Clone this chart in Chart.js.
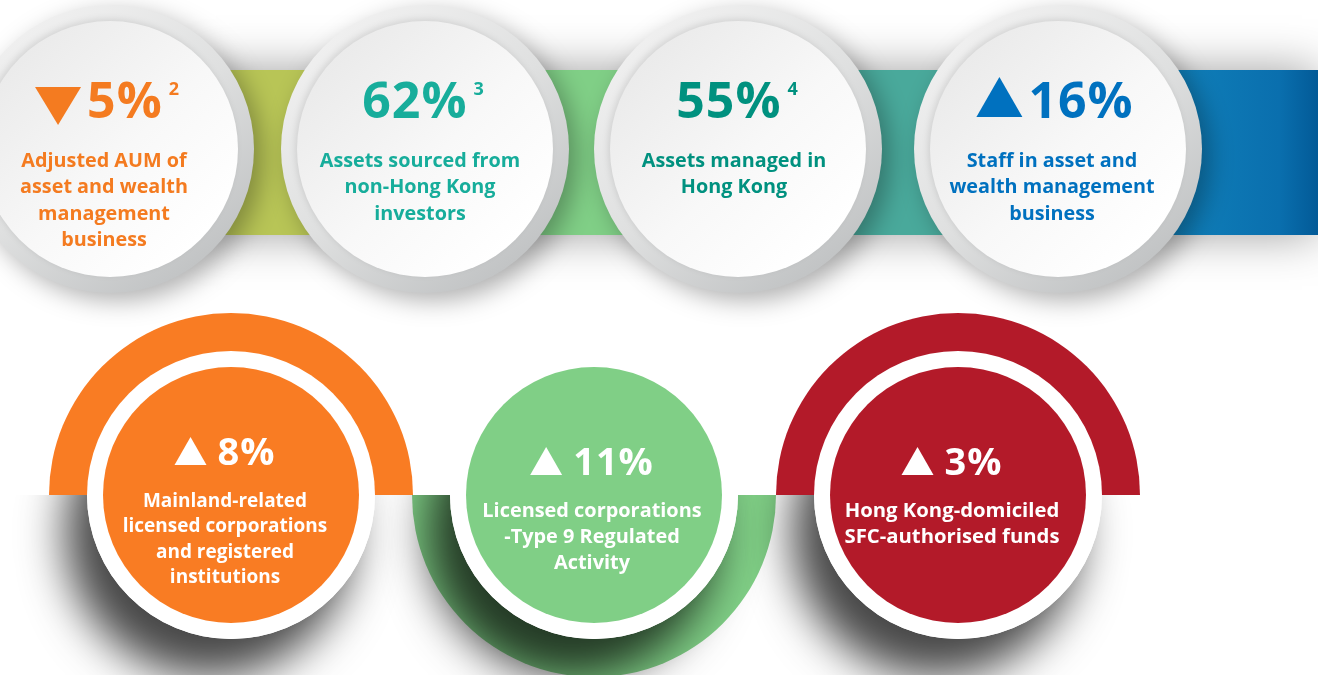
<!DOCTYPE html>
<html><head><meta charset="utf-8">
<script src="https://cdn.jsdelivr.net/npm/chart.js@4/dist/chart.umd.min.js"></script>
<style>html,body{margin:0;padding:0;background:#fff;overflow:hidden}#wrap{width:1321px;height:675px;position:relative}canvas{display:block}</style>
</head><body><div id="wrap"><canvas id="c" width="1321" height="675"></canvas></div>
<script>
// ---------------- DATA ----------------
const topValues = [5, 62, 55, 16];
const topChange = ['down', 'none', 'none', 'up'];
const topNotes = ['2', '3', '4', ''];
const topLabels = [
  ['Adjusted AUM of', 'asset and wealth', 'management', 'business'],
  ['Assets sourced from', 'non-Hong Kong', 'investors'],
  ['Assets managed in', 'Hong Kong'],
  ['Staff in asset and', 'wealth management', 'business']
];
const bottomValues = [8, 11, 3];
const bottomChange = ['up', 'up', 'up'];
const bottomLabels = [
  ['Mainland-related', 'licensed corporations', 'and registered', 'institutions'],
  ['Licensed corporations', '-Type 9 Regulated', 'Activity'],
  ['Hong Kong-domiciled', 'SFC-authorised funds']
];

// ---------------- LAYOUT / STYLE ----------------
const FONT = '"Open Sans", "Noto Sans", sans-serif';
const TOP = {
  cx: [110, 425, 738, 1058], cy: 149, rOuter: 144, rInner: 128,
  textCx: [104, 420, 734, 1052],
  numBase: 118, labelBase: 167, lineH: 26.3, labelSize: 19.8,
  colors: ['#f47b20', '#17ad9b', '#00917f', '#0071bf']
};
const BAND = {
  start: 200, end: 1318, top: 70, bottom: 235,
  segs: [[200, 425, '#b8c556'], [425, 738, '#80cf86'], [738, 1058, '#49a99b'], [1058, 1318, 'blue']]
};
const BOT = {
  cx: [231, 594, 958], cy: 495, rRing: 144, rDisc: 128, rArc: 182,
  arcSide: ['top', 'bottom', 'top'],
  colors: ['#f97c23', '#80cf86', '#b31a29'],
  textCx: [225, 592, 952],
  numBase: [465, 475, 475], labelBase: [507, 517, 517], lineH: [25.3, 26, 26],
  labelSize: [19, 19.9, 20.3]
};

function px(chart, v) { return chart.scales.x.getPixelForValue(v); }
function py(chart, v) { return chart.scales.y.getPixelForValue(v); }
function okPos(chart, p) {
  if (!p || !chart.scales || !chart.scales.x || !chart.scales.y) return null;
  const x = px(chart, p.x), y = py(chart, p.y);
  if (!isFinite(x) || !isFinite(y)) return null;
  return { x, y, r: p.r };
}
function ringGradient(c) {
  const q = okPos(c.chart, c.raw);
  if (!q) return '#dcdcdc';
  const { x, y, r } = q;
  const g = c.chart.ctx.createLinearGradient(x - r * 0.6, y - r * 0.8, x + r * 0.6, y + r * 0.8);
  g.addColorStop(0, '#efefef'); g.addColorStop(0.5, '#dfe0e0'); g.addColorStop(1, '#c2c4c5');
  return g;
}
function discGradient(c) {
  const q = okPos(c.chart, c.raw);
  if (!q) return '#f6f6f6';
  const { x, y, r } = q;
  const g = c.chart.ctx.createLinearGradient(x - r * 0.7, y - r * 0.7, x + r * 0.7, y + r * 0.7);
  g.addColorStop(0, '#ebebeb'); g.addColorStop(0.55, '#f8f8f8'); g.addColorStop(1, '#ffffff');
  return g;
}

function drawTriangle(ctx, x, yTop, w, h, dir) {
  ctx.beginPath();
  if (dir === 'up') { ctx.moveTo(x, yTop + h); ctx.lineTo(x + w / 2, yTop); ctx.lineTo(x + w, yTop + h); }
  else { ctx.moveTo(x, yTop); ctx.lineTo(x + w, yTop); ctx.lineTo(x + w / 2, yTop + h); }
  ctx.closePath(); ctx.fill();
}

function drawStat(ctx, o) {
  ctx.save();
  ctx.fillStyle = o.color;
  ctx.textBaseline = 'alphabetic';
  ctx.textAlign = 'left';
  ctx.font = o.numFont;
  ctx.letterSpacing = o.ls;
  const txt = o.value + '%';
  const tw = ctx.measureText(txt).width;
  let supW = 0;
  if (o.sup) { ctx.letterSpacing = '0px'; ctx.font = o.supFont; supW = o.supGap + ctx.measureText(o.sup).width; }
  const triW = o.change !== 'none' ? o.tri.w + o.tri.gap : 0;
  const total = triW + tw + supW;
  let x = o.cx - total / 2;
  if (o.change !== 'none') {
    const t = o.change === 'up' ? o.tri.up : o.tri.down;
    drawTriangle(ctx, x, o.base + t.dy, o.tri.w, t.h, o.change);
    x += triW;
  }
  ctx.font = o.numFont; ctx.letterSpacing = o.ls;
  ctx.fillText(txt, x, o.base);
  x += tw;
  if (o.sup) {
    ctx.letterSpacing = '0px'; ctx.font = o.supFont;
    ctx.fillText(o.sup, x + o.supGap, o.base + o.supDy);
  }
  ctx.letterSpacing = '0px';
  ctx.textAlign = 'center';
  ctx.font = o.labelFont;
  o.lines.forEach((ln, i) => ctx.fillText(ln, o.labelCx, o.labelBase + i * o.lineH));
  ctx.restore();
}

const infographic = {
  id: 'infographic',
  beforeDatasetsDraw(chart) {
    const ctx = chart.ctx;
    const X = v => px(chart, v), Y = v => py(chart, v);
    ctx.save();
    ctx.beginPath(); ctx.rect(0, 0, X(BAND.end), chart.height); ctx.clip();
    ctx.shadowColor = 'rgba(0,0,0,0.38)'; ctx.shadowBlur = 45;
    ctx.fillStyle = '#ffffff';
    ctx.fillRect(X(BAND.start), Y(BAND.top), X(BAND.end) - X(BAND.start), Y(BAND.bottom) - Y(BAND.top));
    ctx.restore();
    BAND.segs.forEach(s => {
      let fill = s[2];
      if (fill === 'blue') {
        const g = ctx.createLinearGradient(X(s[0]), 0, X(s[1]), 0);
        g.addColorStop(0, '#1a87b2'); g.addColorStop(0.55, '#0e7bb6'); g.addColorStop(0.85, '#0a6fae'); g.addColorStop(1, '#025a97');
        fill = g;
      }
      ctx.fillStyle = fill;
      ctx.fillRect(X(s[0]), Y(BAND.top), X(s[1]) - X(s[0]), Y(BAND.bottom) - Y(BAND.top));
    });
    BOT.cx.forEach((cx, i) => {
      ctx.beginPath();
      const x = X(cx), y = Y(BOT.cy);
      if (BOT.arcSide[i] === 'top') ctx.arc(x, y, BOT.rArc, Math.PI, 2 * Math.PI);
      else ctx.arc(x, y, BOT.rArc, 0, Math.PI);
      ctx.closePath();
      ctx.fillStyle = BOT.colors[i];
      ctx.fill();
    });
    ctx.save();
    ctx.beginPath(); ctx.rect(0, Y(BOT.cy), chart.width, chart.height); ctx.clip();
    ctx.shadowColor = 'rgba(0,0,0,0.72)'; ctx.shadowBlur = 45; ctx.shadowOffsetX = -22; ctx.shadowOffsetY = 38;
    ctx.fillStyle = '#ffffff';
    BOT.cx.forEach(cx => { ctx.beginPath(); ctx.arc(X(cx), Y(BOT.cy), BOT.rRing, 0, 2 * Math.PI); ctx.fill(); });
    ctx.restore();
  },
  beforeDatasetDraw(chart, args) {
    const s = chart.data.datasets[args.index].shadowStyle;
    if (s) {
      const ctx = chart.ctx;
      ctx.shadowColor = s.color; ctx.shadowBlur = s.blur; ctx.shadowOffsetX = s.ox; ctx.shadowOffsetY = s.oy;
    }
  },
  afterDatasetDraw(chart) {
    const ctx = chart.ctx;
    ctx.shadowColor = 'rgba(0,0,0,0)'; ctx.shadowBlur = 0; ctx.shadowOffsetX = 0; ctx.shadowOffsetY = 0;
  },
  afterDatasetsDraw(chart) {
    const ctx = chart.ctx;
    const X = v => px(chart, v), Y = v => py(chart, v);
    topValues.forEach((v, i) => {
      drawStat(ctx, {
        cx: X(TOP.textCx[i]) + 3, base: Y(TOP.numBase), value: v, change: topChange[i], sup: topNotes[i],
        color: TOP.colors[i], numFont: '700 50px ' + FONT, supFont: '700 18px ' + FONT, supGap: 6, supDy: -23,
        ls: '1px',
        tri: { w: 46, gap: 6, up: { dy: -41, h: 40 }, down: { dy: -31, h: 38 } },
        labelFont: '700 ' + TOP.labelSize + 'px ' + FONT, lines: topLabels[i], labelCx: X(TOP.textCx[i]),
        labelBase: Y(TOP.labelBase), lineH: TOP.lineH
      });
    });
    bottomValues.forEach((v, i) => {
      drawStat(ctx, {
        cx: X(BOT.textCx[i]), base: Y(BOT.numBase[i]), value: v, change: bottomChange[i], sup: '',
        color: '#ffffff', numFont: '700 38px ' + FONT, supFont: '', supGap: 0, supDy: 0, ls: '1px',
        tri: { w: 32, gap: 11, up: { dy: -28, h: 28 }, down: { dy: -28, h: 28 } },
        labelFont: '700 ' + BOT.labelSize[i] + 'px ' + FONT, lines: bottomLabels[i], labelCx: X(BOT.textCx[i]),
        labelBase: Y(BOT.labelBase[i]), lineH: BOT.lineH[i]
      });
    });
  }
};

const pts = (cxs, cy, r) => cxs.map(x => ({ x: x, y: cy, r: r }));

new Chart(document.getElementById('c'), {
  type: 'bubble',
  data: {
    datasets: [
      { label: 'top rings', data: pts(TOP.cx, TOP.cy, TOP.rOuter), backgroundColor: ringGradient, borderWidth: 0, order: 10, clip: false,
        shadowStyle: { color: 'rgba(0,0,0,0.30)', blur: 24, ox: 8, oy: 8 } },
      { label: 'top discs', data: pts(TOP.cx, TOP.cy, TOP.rInner), backgroundColor: discGradient, borderWidth: 0, order: 9, clip: false,
        shadowStyle: { color: 'rgba(0,0,0,0.10)', blur: 6, ox: -2, oy: -2 } },
      { label: 'bottom rings', data: pts(BOT.cx, BOT.cy, BOT.rRing), backgroundColor: '#ffffff', borderWidth: 0, order: 8, clip: false },
      { label: 'bottom discs', data: pts(BOT.cx, BOT.cy, BOT.rDisc), backgroundColor: BOT.colors, borderWidth: 0, order: 7, clip: false }
    ]
  },
  options: {
    responsive: false, animation: false, events: [],
    layout: { padding: 0, autoPadding: false },
    plugins: { legend: { display: false }, tooltip: { enabled: false } },
    scales: {
      x: { type: 'linear', min: 0, max: 1321, display: false },
      y: { type: 'linear', min: 0, max: 675, reverse: true, display: false }
    }
  },
  plugins: [infographic]
});
</script>
</body></html>
